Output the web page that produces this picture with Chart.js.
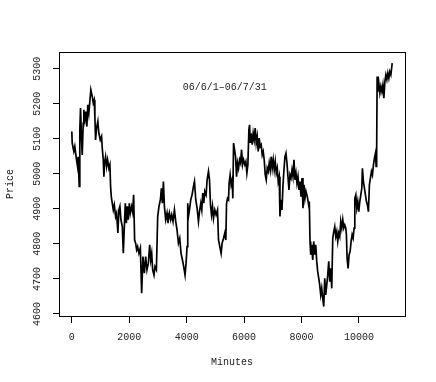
<!DOCTYPE html>
<html>
<head>
<meta charset="utf-8">
<script src="https://cdn.jsdelivr.net/npm/chart.js@4.4.1/dist/chart.umd.min.js"></script>
<style>
  html, body { margin: 0; padding: 0; background: #fff; }
  canvas { display: block; }
</style>
</head>
<body>
<canvas id="priceChart" width="436" height="382"></canvas>
<script>
// minutes since 06/6/1 open
const minutes = [
  0, 14, 70, 105, 164, 199, 223, 258, 279, 304, 339, 363, 398, 419, 454, 489, 524, 558, 593, 628,
  663, 712, 747, 782, 803, 827, 862, 907, 942, 991, 1037, 1061, 1096, 1117, 1141, 1176, 1211, 1246, 1291, 1326,
  1351, 1375, 1410, 1445, 1480, 1525, 1560, 1605, 1640, 1675, 1710, 1759, 1794, 1829, 1864, 1899, 1933, 1968, 2003, 2038,
  2084, 2118, 2153, 2188, 2223, 2258, 2293, 2338, 2387, 2433, 2478, 2527,
  2572, 2618, 2666, 2712, 2747, 2782, 2816, 2862, 2897, 2946, 2991, 3036, 3085, 3120, 3155, 3190, 3225, 3270, 3316, 3350,
  3399, 3445, 3480, 3525, 3574, 3619, 3665, 3713, 3759, 3804, 3853, 3898, 3944, 3979, 4014, 4038, 4062, 4097, 4143, 4188,
  4237, 4272, 4317, 4363, 4411, 4446, 4492, 4527, 4561, 4596, 4631, 4677, 4712, 4760, 4795, 4830, 4865, 4900, 4935, 4980,
  5026, 5074, 5109, 5155, 5200, 5235, 5284, 5329,
  5364, 5389, 5423, 5458, 5479, 5514, 5549, 5584, 5608, 5633, 5668, 5703, 5738, 5772, 5807, 5842, 5877, 5912, 5947, 5982,
  6027, 6062, 6097, 6132, 6167, 6191, 6212, 6247, 6282, 6317, 6352, 6387, 6422, 6457, 6491, 6526, 6561, 6596, 6631, 6666,
  6701, 6736, 6771, 6806, 6840, 6875, 6910, 6945, 6980, 7015, 7050, 7085, 7120, 7155, 7189, 7224, 7249, 7284, 7319, 7353,
  7388, 7423, 7458, 7493, 7528, 7563, 7598, 7633, 7668, 7702, 7737, 7772, 7807, 7842, 7877, 7912, 7947, 7982, 8017, 8051,
  8086, 8121,
  8156, 8202, 8250, 8271, 8296, 8320, 8355, 8390, 8425, 8460, 8495, 8530, 8564, 8599, 8634, 8669, 8704, 8739, 8774, 8809,
  8844, 8879, 8913, 8948, 8983, 9018, 9053, 9088, 9123, 9158, 9193, 9228, 9262, 9297, 9332, 9367, 9402, 9437, 9472, 9507,
  9542, 9563, 9587, 9622, 9657, 9692, 9727, 9762, 9796, 9831, 9856, 9891, 9926, 9960, 9995, 10030, 10065, 10100, 10121, 10156,
  10191, 10226, 10261, 10296, 10330, 10365, 10400, 10435, 10470, 10505, 10540, 10575, 10599, 10617, 10634, 10658, 10693, 10728, 10763, 10798,
  10833, 10868, 10903, 10938, 10973, 11007, 11042, 11077, 11112, 11158
];

const price = [
  5121, 5088, 5064, 5078, 5040, 5021, 5049, 4964, 5126, 5188, 5097, 5054, 5145, 5183, 5154, 5178, 5135, 5197, 5173, 5207,
  5240, 5221, 5202, 5211, 5164, 5097, 5131, 5150, 5116, 5097, 5107, 5073, 5040, 4992, 5031, 5049, 5021, 5040, 5016, 5026,
  4964, 4935, 4916, 4897, 4911, 4878, 4888, 4831, 4897, 4907, 4869, 4849, 4773, 4849, 4916, 4859, 4907, 4869, 4916, 4888,
  4907, 4892, 4940, 4811, 4802, 4783, 4792, 4773, 4788, 4659, 4764, 4716,
  4764, 4726, 4745, 4797, 4754, 4773, 4726, 4711, 4735, 4726, 4878, 4907, 4926, 4959, 4916, 4978, 4907, 4869, 4888, 4859,
  4888, 4869, 4883, 4864, 4897, 4864, 4840, 4802, 4816, 4773, 4754, 4735, 4711, 4745, 4792, 4916, 4878, 4897, 4926, 4940,
  4964, 4978, 4926, 4902, 4864, 4892, 4916, 4897, 4945, 4916, 4950, 4940, 4983, 5007, 4983, 4911, 4883, 4907, 4873, 4897,
  4883, 4897, 4811, 4792, 4773, 4802, 4816, 4831,
  4811, 4916, 4930, 4926, 4973, 4997, 4969, 4983, 4930, 5088, 5069, 5049, 4992, 5031, 5016, 5040, 5031, 5069, 5026, 5040,
  5026, 5035, 5002, 5026, 5126, 5140, 5088, 5116, 5083, 5116, 5097, 5131, 5088, 5107, 5064, 5102, 5078, 5083, 5054, 5064,
  5040, 4997, 4983, 5016, 5007, 5031, 5011, 5049, 5016, 5040, 5011, 5035, 5002, 5016, 4978, 4992, 4878, 4926, 4897, 4964,
  5011, 5049, 5059, 5031, 4992, 4954, 4997, 4988, 5011, 4992, 5040, 4983, 5002, 4973, 4992, 4954, 4978, 4935, 4988, 4902,
  4969, 4930,
  4950, 4935, 4911, 4921, 4807, 4769, 4797, 4754, 4807, 4769, 4797, 4750, 4721, 4702, 4683, 4654, 4673, 4645, 4621, 4702,
  4654, 4683, 4711, 4750, 4692, 4730, 4673, 4816, 4835, 4849, 4821, 4835, 4807, 4831, 4821, 4864, 4845, 4869, 4845, 4854,
  4845, 4826, 4759, 4730, 4769, 4778, 4807, 4826, 4816, 4845, 4930, 4940, 4902, 4921, 4892, 4921, 4940, 4959, 5016, 4978,
  4959, 4940, 4921, 4911, 4892, 4969, 4988, 5007, 4997, 5026, 5045, 5059, 5021, 5060, 5278, 5235, 5259, 5231, 5250, 5235,
  5254, 5216, 5264, 5283, 5269, 5288, 5273, 5292, 5283, 5316
];

const xTicks = [0, 2000, 4000, 6000, 8000, 10000];
const yTicks = [4600, 4700, 4800, 4900, 5000, 5100, 5200, 5300];
const periodLabel = '06/6/1\u201306/7/31';
const periodAt = { x: 5330, y: 5246 };

const font = { family: 'Liberation Mono', size: 10 };
const ink = '#000';

// plot frame + the period text inside the panel
const framePlugin = {
  id: 'frame',
  afterDraw(chart) {
    const { ctx, chartArea: a, scales } = chart;
    ctx.save();
    ctx.strokeStyle = ink;
    ctx.lineWidth = 1;
    ctx.strokeRect(Math.round(a.left) + 0.5, Math.round(a.top) + 0.5,
      Math.round(a.right - a.left), Math.round(a.bottom - a.top));
    ctx.fillStyle = '#222';
    ctx.font = '10px "Liberation Mono"';
    ctx.textAlign = 'center';
    ctx.textBaseline = 'middle';
    ctx.fillText(periodLabel, scales.x.getPixelForValue(periodAt.x), scales.y.getPixelForValue(periodAt.y));
    ctx.restore();
  }
};

const points = minutes.map((m, i) => ({ x: m, y: price[i] }));

new Chart(document.getElementById('priceChart'), {
  type: 'line',
  data: {
    datasets: [{
      data: points,
      borderColor: ink,
      borderWidth: 1.7,
      pointRadius: 0,
      tension: 0,
      fill: false
    }]
  },
  options: {
    responsive: false,
    animation: false,
    devicePixelRatio: 1,
    layout: { padding: { top: 52, right: 31, bottom: 0, left: 0 } },
    plugins: {
      legend: { display: false },
      tooltip: { enabled: false }
    },
    scales: {
      x: {
        type: 'linear',
        min: -446,
        max: 11604,
        afterBuildTicks: s => { s.ticks = xTicks.map(v => ({ value: v })); },
        afterFit: s => { s.height = 66; },
        grid: { drawOnChartArea: false, drawTicks: true, tickLength: 7, color: ink, lineWidth: 1 },
        border: { display: true, color: ink, width: 1 },
        ticks: {
          color: '#222', font, padding: 8, autoSkip: false, maxRotation: 0,
          callback: v => String(v)
        },
        title: { display: true, text: 'Minutes', color: '#222', font, padding: { top: 0, bottom: 14 } }
      },
      y: {
        type: 'linear',
        min: 4594,
        max: 5348,
        afterBuildTicks: s => { s.ticks = yTicks.map(v => ({ value: v })); },
        afterFit: s => { s.width = 59; },
        grid: { drawOnChartArea: false, drawTicks: true, tickLength: 6, color: ink, lineWidth: 1 },
        border: { display: true, color: ink, width: 1 },
        ticks: {
          color: '#222', font, padding: 4, autoSkip: false,
          minRotation: 90, maxRotation: 90, crossAlign: 'center',
          callback: v => String(v)
        },
        title: { display: true, text: 'Price', color: '#222', font, padding: { top: 4, bottom: 0 } }
      }
    }
  },
  plugins: [framePlugin]
});
</script>
</body>
</html>
